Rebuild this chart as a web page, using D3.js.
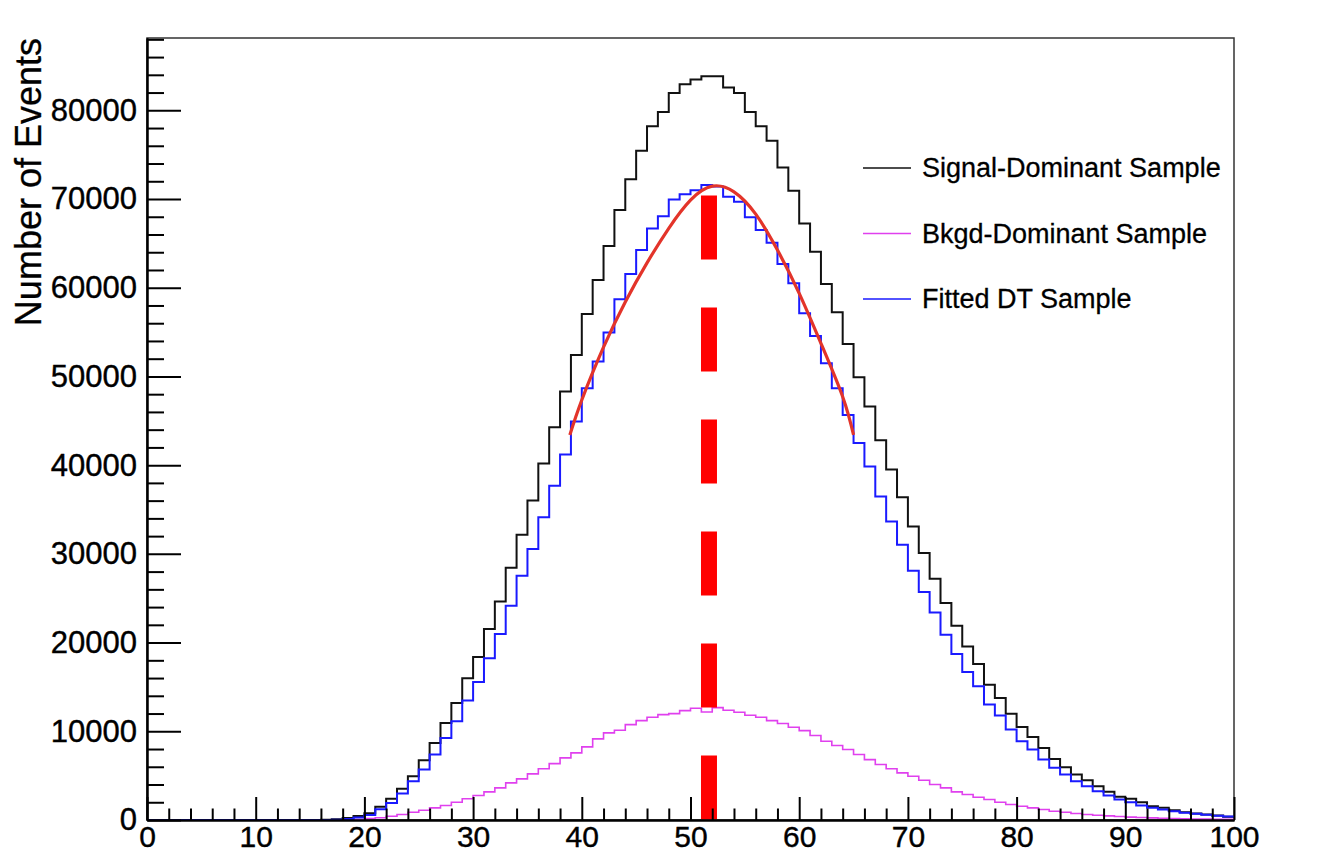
<!DOCTYPE html>
<html lang="en">
<head>
<meta charset="UTF-8">
<title>Number of Events</title>
<script src="https://d3js.org/d3.v7.min.js"></script>
<style>
  body { margin: 0; background: #fff; }
  svg { display: block; font-family: "Liberation Sans", Arial, Helvetica, sans-serif; }
  .axis path, .axis line { stroke: #000; stroke-width: 2px; }
  .axis text { font-size: 31px; fill: #000; stroke: #000; stroke-width: 0.4px; }
  .axis.xlab text { font-size: 30px; }
  .hist { fill: none; }
  .legend text { font-size: 27px; fill: #000; stroke: #000; stroke-width: 0.3px; }
  .ytitle { font-size: 36px; fill: #000; stroke: #000; stroke-width: 0.3px; }
</style>
</head>
<body>
<svg id="chart" width="1318" height="855"></svg>
<script>
// histogram binning: 100 bins of width 1 from 0 to 100
const xMin = 0, xMax = 100, yMax = 88150;
const binLow = d3.range(0, 100);

// bin contents, bins 0..99
const signalDominant = [
  0, 0, 0, 0, 0, 0, 0, 0, 0, 0,
  0, 0, 0, 0, 0, 0, 20, 80, 230, 450,
  750, 1490, 2390, 3510, 4940, 6740, 8690, 10940, 13190, 15970,
  18370, 21530, 24640, 28430, 32150, 36020, 40200, 44280, 48290, 52420,
  57040, 60870, 64700, 68750, 72240, 75430, 78210, 79820, 81960, 82940,
  83470, 83840, 83840, 82570, 81960, 79820, 78210, 76560, 73560, 70930,
  67250, 64060, 60420, 57230, 53660, 49910, 46600, 42800, 39500, 36390,
  33090, 30090, 27200, 24460, 21900, 19570, 17590, 15260, 13760, 11990,
  10490, 9370, 8130, 6890, 5950, 5120, 4480, 3810, 3180, 2610,
  2390, 2000, 1550, 1370, 1100, 880, 730, 620, 510, 380
];
const bkgdDominant = [
  0, 0, 0, 0, 0, 0, 0, 0, 0, 0,
  0, 0, 0, 0, 0, 0, 0, 0, 0, 60,
  170, 250, 430, 620, 880, 1100, 1370, 1630, 2000, 2390,
  2760, 3170, 3620, 4190, 4640, 5200, 5770, 6360, 7000, 7570,
  8240, 9140, 9820, 10110, 10750, 11200, 11580, 11880, 11990, 12330,
  12590, 12180, 12670, 12370, 12140, 11800, 11580, 11200, 10870, 10450,
  10080, 9520, 8880, 8390, 7940, 7380, 6810, 6250, 5770, 5310,
  4940, 4480, 4000, 3620, 3170, 2870, 2570, 2310, 2000, 1750,
  1550, 1370, 1180, 990, 880, 730, 620, 540, 470, 390,
  320, 280, 240, 200, 170, 140, 120, 100, 80, 70
];
const fittedDT = [
  0, 0, 0, 0, 0, 0, 0, 0, 0, 0,
  0, 0, 0, 0, 0, 0, 0, 30, 120, 280,
  550, 1200, 1930, 2980, 4370, 5690, 7380, 9250, 11130, 13460,
  15560, 18220, 20970, 24160, 27530, 30540, 34140, 37670, 41200, 44910,
  48670, 51670, 54940, 58690, 61540, 64250, 66690, 68070, 69950, 70550,
  71000, 71570, 71400, 70250, 69690, 67950, 66500, 65070, 62670, 60500,
  57120, 54560, 51490, 48670, 45660, 42500, 39840, 36460, 33650, 31020,
  28100, 25700, 23400, 20890, 18720, 16690, 15070, 13010, 11770, 10190,
  8870, 7940, 6810, 5880, 5120, 4370, 3810, 3240, 2760, 2310,
  2000, 1630, 1370, 1180, 990, 810, 700, 580, 470, 390
];

// red fit curve
const fitX = [38.9, 40, 42, 44, 46, 48, 50, 52, 54, 56, 58, 60, 62, 64, 65];
const fitY = [43400, 47350, 53300, 58400, 62800, 66700, 69880, 71450, 70810, 68300, 64250, 59370, 53740, 47720, 43400];

// dashed marker at the fitted peak
const peakX = 51.7;
const peakTop = 70400;

// axis ticks
const xMajor = d3.range(0, 101, 10);
const xMinor = d3.range(0, 101, 2).filter(d => d % 10 !== 0);
const yMajor = d3.range(0, 80001, 10000);
const yMinor = d3.range(0, 88001, 2000).filter(d => d % 10000 !== 0);

const series = [
  { name: "Signal-Dominant Sample", values: signalDominant, color: "#111111", width: 2 },
  { name: "Bkgd-Dominant Sample", values: bkgdDominant, color: "#e040ee", width: 1.6 },
  { name: "Fitted DT Sample", values: fittedDT, color: "#1a1aff", width: 2 }
];

const margin = { top: 38, right: 84, bottom: 35, left: 147 };
const W = 1318, H = 855;
const width = W - margin.left - margin.right;
const height = H - margin.top - margin.bottom;

const svg = d3.select("#chart");
const g = svg.append("g").attr("transform", `translate(${margin.left},${margin.top})`);

const x = d3.scaleLinear().domain([xMin, xMax]).range([0, width]);
const y = d3.scaleLinear().domain([0, yMax]).range([height, 0]);

// frame
g.append("rect")
  .attr("width", width).attr("height", height)
  .attr("fill", "none").attr("stroke", "#333").attr("stroke-width", 1.5);

// histograms
const step = d3.line()
  .x(d => x(d[0]))
  .y(d => y(d[1]))
  .curve(d3.curveStepAfter);

series.forEach(s => {
  const pts = binLow.map((b, i) => [b, s.values[i]]);
  pts.push([xMax, s.values[s.values.length - 1]]);
  g.append("path")
    .datum(pts)
    .attr("class", "hist")
    .attr("stroke", s.color)
    .attr("stroke-width", s.width)
    .attr("d", step);
});

// fit curve
g.append("path")
  .datum(fitX.map((v, i) => [v, fitY[i]]))
  .attr("fill", "none")
  .attr("stroke", "#e3342a")
  .attr("stroke-width", 3.2)
  .attr("d", d3.line().x(d => x(d[0])).y(d => y(d[1])).curve(d3.curveNatural));

// dashed peak line, drawn from top down
g.append("line")
  .attr("x1", x(peakX)).attr("x2", x(peakX))
  .attr("y1", y(peakTop)).attr("y2", y(0))
  .attr("stroke", "#ff0000")
  .attr("stroke-width", 16)
  .attr("stroke-dasharray", "64 48");

// axes
g.append("g").attr("class", "axis")
  .call(d3.axisLeft(y).tickValues(yMinor).tickSize(-17).tickSizeOuter(0).tickFormat(""));
g.append("g").attr("class", "axis")
  .call(d3.axisLeft(y).tickValues(yMajor).tickSize(-34).tickSizeOuter(0).tickPadding(10).tickFormat(d3.format("d")));

g.append("g").attr("class", "axis")
  .attr("transform", `translate(0,${height})`)
  .call(d3.axisBottom(x).tickValues(xMinor).tickSize(-11.5).tickSizeOuter(0).tickFormat(""));
g.append("g").attr("class", "axis xlab")
  .attr("transform", `translate(0,${height})`)
  .call(d3.axisBottom(x).tickValues(xMajor).tickSize(-23).tickSizeOuter(0).tickPadding(5.5).tickFormat(d3.format("d")));

// y title
svg.append("text")
  .attr("class", "ytitle")
  .attr("transform", `translate(41,${margin.top}) rotate(-90)`)
  .attr("text-anchor", "end")
  .text("Number of Events");

// legend
const legend = svg.append("g").attr("class", "legend");
const legendY = [168, 233.5, 299];
series.forEach((s, i) => {
  legend.append("line")
    .attr("x1", 863).attr("x2", 911)
    .attr("y1", legendY[i]).attr("y2", legendY[i])
    .attr("stroke", s.color).attr("stroke-width", 1.6);
  legend.append("text")
    .attr("x", 922).attr("y", legendY[i])
    .attr("dy", "0.35em")
    .text(s.name);
});
</script>
</body>
</html>
